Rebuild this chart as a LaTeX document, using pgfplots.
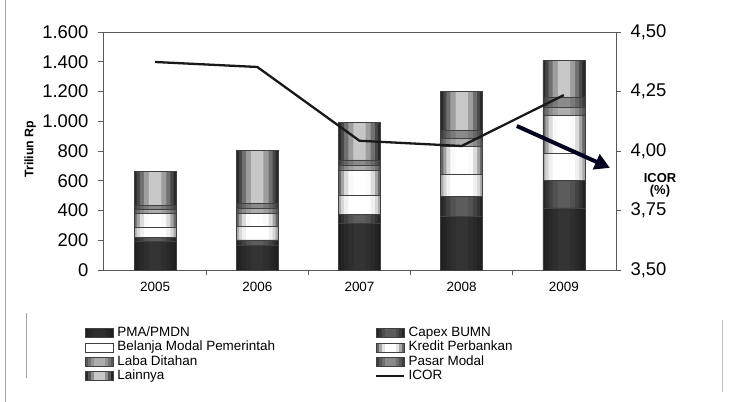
\documentclass[border=0pt]{standalone}
\usepackage{pgfplots}
\usepackage{pgfplotstable}
\pgfplotsset{compat=1.18}
\usepackage{fontspec}
\setmainfont{Liberation Sans}
\usetikzlibrary{arrows.meta}

% Sumber pembiayaan investasi (triliun Rp)
\pgfplotstableread{
x pma capex belanja kredit laba pasar lain
0 190 30 70 90 25 30 230
1 168 34 90 90 34 34 356
2 314 60 130 168 34 34 251
3 358 139 148 184 56 56 257
4 417 188 179 257 56 67 246
}\investasi

% ICOR
\pgfplotstableread{
x icor
0 4.374
1 4.353
2 4.043
3 4.021
4 4.235
}\icor

\pgfplotsset{
  base/.style={
    scale only axis, width=513bp, height=238bp,
    at={(0,0)}, anchor=south west,
    xmin=-0.51, xmax=4.51,
    axis line style={black!65, line width=0.8bp},
    tick style={black!65, line width=0.7bp},
    tick align=outside, major tick length=5bp,
    /pgf/number format/assume math mode=true,
  },
  layer/.style={base, hide axis, ybar stacked, bar width=#1, ymin=0, ymax=1600},
}

% one layer of the stacked bars: bar width, then one grey level per series
\newcommand\stacklayer[8]{%
\begin{axis}[layer=#1]
\addplot[draw=none, fill=black!#2] table[x=x, y=pma]{\investasi};
\addplot[draw=none, fill=black!#3] table[x=x, y=capex]{\investasi};
\addplot[draw=none, fill=black!#4] table[x=x, y=belanja]{\investasi};
\addplot[draw=none, fill=black!#5] table[x=x, y=kredit]{\investasi};
\addplot[draw=none, fill=black!#6] table[x=x, y=laba]{\investasi};
\addplot[draw=none, fill=black!#7] table[x=x, y=pasar]{\investasi};
\addplot[draw=none, fill=black!#8] table[x=x, y=lain]{\investasi};
\end{axis}}

% legend swatch with darker sides and a lighter middle
\newcommand\swatch[4]{%
  \fill[black!#1] (0bp,-4.5bp) rectangle (28bp,4.5bp);
  \fill[black!#2] (3bp,-4.5bp) rectangle (25bp,4.5bp);
  \fill[black!#3] (6bp,-4.5bp) rectangle (22bp,4.5bp);
  \fill[black!#4] (9bp,-4.5bp) rectangle (19bp,4.5bp);
  \draw[black!75, line width=0.6bp] (0bp,-4.5bp) rectangle (28bp,4.5bp);}

\begin{document}
\begin{tikzpicture}
% horizontal grey gradient of the bars, from the sides inwards
\stacklayer{0.41}{88}{86}{34}{60}{66}{76}{84}
\stacklayer{0.36}{86}{80}{16}{36}{56}{68}{72}
\stacklayer{0.30}{84}{74}{6}{14}{46}{60}{56}
\stacklayer{0.22}{82}{68}{0}{2}{38}{52}{38}
\stacklayer{0.12}{80}{64}{0}{0}{32}{46}{22}

\begin{axis}[base,
  ybar stacked, bar width=0.41,
  ymin=0, ymax=1600, ytick={0,200,...,1600},
  ytick pos=left,
  yticklabel style={font=\fontsize{18.5}{20}\selectfont, xshift=-6bp,
    /pgf/number format/.cd, 1000 sep={.}},
  xtick={0.5,1.5,2.5,3.5}, xticklabels={}, xtick pos=lower,
  extra x ticks={0,1,2,3,4},
  extra x tick labels={2005,2006,2007,2008,2009},
  extra x tick style={major tick length=0pt},
  xticklabel style={font=\fontsize{13.5}{15}\selectfont, yshift=-9bp},
  ylabel={Triliun Rp},
  ylabel style={font=\bfseries\fontsize{12.4}{14}\selectfont,
    at={(axis description cs:-0.142,0.508)}, anchor=center},
  legend columns=2,
  legend cell align=left,
  legend style={at={(axis description cs:-0.035,-0.235)}, anchor=north west,
    draw=none, fill=none, inner sep=0pt,
    font=\fontsize{13.5}{14}\selectfont,
    nodes={inner sep=0.5bp, text height=10bp, text depth=3.2bp, anchor=west},
    /tikz/every odd column/.append style={column sep=3bp},
    /tikz/every even column/.append style={column sep=100bp}},
]
% segment outlines drawn over the grey layers
\addplot[draw=black!75, line width=0.6bp, fill=none,
  legend image code/.code={\swatch{88}{86}{84}{82}}] table[x=x, y=pma]{\investasi};
\addlegendentry{PMA/PMDN}
\addplot[draw=black!75, line width=0.6bp, fill=none,
  legend image code/.code={\swatch{86}{78}{70}{64}}] table[x=x, y=capex]{\investasi};
\addlegendentry{Capex BUMN}
\addplot[draw=black!75, line width=0.6bp, fill=none,
  legend image code/.code={\swatch{0}{0}{0}{0}}] table[x=x, y=belanja]{\investasi};
\addlegendentry{Belanja Modal Pemerintah}
\addplot[draw=black!75, line width=0.6bp, fill=none,
  legend image code/.code={\swatch{60}{34}{10}{0}}] table[x=x, y=kredit]{\investasi};
\addlegendentry{Kredit Perbankan}
\addplot[draw=black!75, line width=0.6bp, fill=none,
  legend image code/.code={\swatch{66}{54}{42}{32}}] table[x=x, y=laba]{\investasi};
\addlegendentry{Laba Ditahan}
\addplot[draw=black!75, line width=0.6bp, fill=none,
  legend image code/.code={\swatch{76}{66}{56}{46}}] table[x=x, y=pasar]{\investasi};
\addlegendentry{Pasar Modal}
\addplot[draw=black!75, line width=0.6bp, fill=none,
  legend image code/.code={\swatch{84}{66}{44}{22}}] table[x=x, y=lain]{\investasi};
\addlegendentry{Lainnya}
\addlegendimage{legend image code/.code={\draw[black!90, line width=1.6bp] (0bp,0bp) -- (28bp,0bp);}}
\addlegendentry{ICOR}
\end{axis}

\begin{axis}[base,
  axis x line=none, axis y line*=right,
  ymin=3.5, ymax=4.5, ytick={3.5,3.75,...,4.5},
  yticklabel style={font=\fontsize{18.5}{20}\selectfont, xshift=6bp,
    /pgf/number format/.cd, fixed, fixed zerofill, precision=2, use comma},
  clip=false,
]
\addplot[black!90, line width=2.3bp] table[x=x, y=icor]{\icor};
\draw[-{Triangle[length=15bp, width=16bp]}, line width=4bp, color=black!88!blue]
  (axis cs:3.54,4.105) -- (axis cs:4.45,3.929);
\node[font=\bfseries\fontsize{13}{12}\selectfont, align=center]
  at (rel axis cs:1,0.357) [xshift=44bp] {ICOR\\(\%)};
\end{axis}

% page frame
\draw[black!35, line width=0.8bp] (-98bp,-132bp) -- (-98bp,270bp);
\draw[black!35, line width=0.8bp] (-77bp,-43bp) -- (-77bp,-108bp);
\draw[black!25, line width=0.8bp] (619bp,-50bp) -- (619bp,-122bp);
\pgfresetboundingbox
\path (-103bp,-132bp) rectangle (626bp,270bp);
\end{tikzpicture}
\end{document}
